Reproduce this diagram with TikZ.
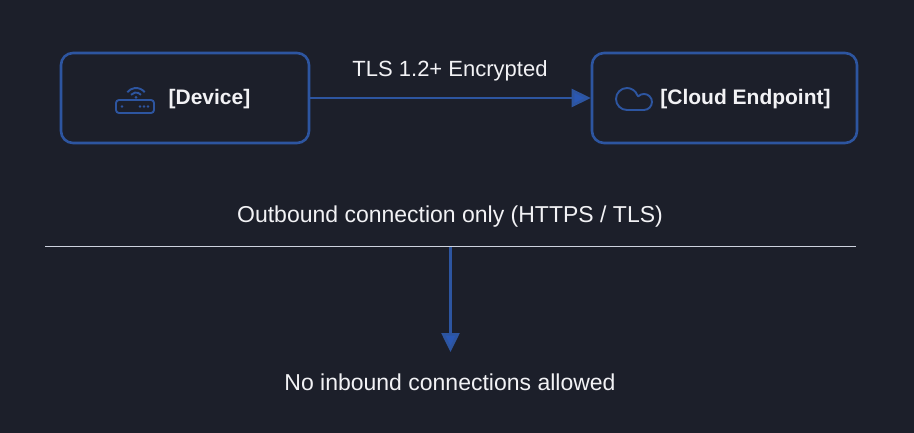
\documentclass[tikz,border=0pt]{standalone}
\usepackage{fontspec}
\setmainfont{Liberation Sans}
\usepackage{tikz}
\usetikzlibrary{arrows.meta}

\definecolor{bgnavy}{RGB}{28,31,42}
\definecolor{edgeblue}{RGB}{45,85,160}
\definecolor{tipblue}{RGB}{42,88,180}
\definecolor{fgwhite}{RGB}{242,242,245}
\definecolor{rulegray}{RGB}{205,210,222}

\begin{document}
\begin{tikzpicture}[x=1pt,y=1pt,
    box/.style={draw=edgeblue,line width=2.6pt,rounded corners=12pt,minimum height=90pt,inner sep=0pt},
    lbl/.style={text=fgwhite,anchor=base,inner sep=0pt},
    icon/.style={draw=edgeblue,line width=1.9pt},
    flow/.style={draw=edgeblue,line width=2.6pt,-{Triangle[length=19pt,width=18pt,fill=tipblue]}}]

    % Background
    \fill[bgnavy] (0,0) rectangle (914,-433);

    % Nodes
    \node[box,minimum width=248pt] (dev) at (185,-98) {};
    \node[box,minimum width=265pt] (cloud) at (724.5,-98) {};

    \node[lbl,font=\fontsize{21}{25}\selectfont\bfseries] (devtxt) at (209.5,-105) {[Device]};
    \node[lbl,font=\fontsize{21}{25}\selectfont\bfseries] (cloudtxt) at (745.5,-105) {[Cloud Endpoint]};
    \node[lbl,font=\fontsize{22}{26}\selectfont] (tls) at (450,-77) {TLS 1.2+ Encrypted};
    \node[lbl,font=\fontsize{23}{27}\selectfont] (outb) at (450,-223) {Outbound connection only (HTTPS / TLS)};
    \node[lbl,font=\fontsize{23}{27}\selectfont] (noin) at (450,-390) {No inbound connections allowed};

    \coordinate (ruleL) at (45,-246.5);
    \coordinate (ruleR) at (856,-246.5);
    \coordinate (split) at (450.5,-247.5);
    \coordinate (tip) at (450.5,-352);

    % Icons
    \draw[icon,rounded corners=3pt] (116,-100) rectangle (154,-113);
    \fill[edgeblue] (122,-106.5) circle (1.3);
    \foreach \dx in {140,144,148}
        \fill[edgeblue] (\dx,-106.5) circle (1.3);
    \draw[icon] (136,-99) ++(38:11) arc[start angle=38,end angle=142,radius=11];
    \draw[icon] (136,-99) ++(40:6.5) arc[start angle=40,end angle=140,radius=6.5];
    \fill[edgeblue] (136,-97.5) circle (1.5);

    \draw[icon,line join=round] (627,-110) arc[start angle=270,end angle=20,radius=11]
        -- (638.3,-96.3) arc[start angle=135,end angle=-90,radius=8] -- cycle;

    % Edges
    \draw[flow] (dev.east) -- (cloud.west);
    \draw[rulegray,line width=1.5pt] (ruleL) -- (ruleR);
    \draw[flow] (split) -- (tip);

\end{tikzpicture}
\end{document}
